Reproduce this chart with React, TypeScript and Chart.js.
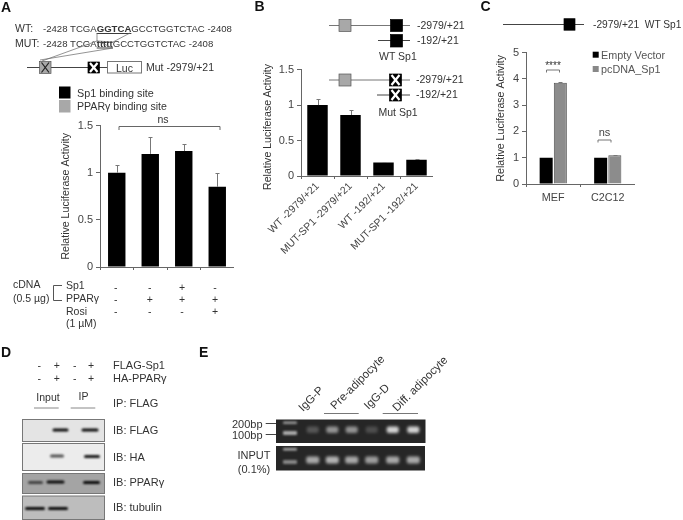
import React, { useEffect, useRef } from "react";
import { Chart, registerables } from "chart.js";

Chart.register(...registerables);

const FONT = "'Liberation Sans', Arial, sans-serif";
const INK = "#333333";

// ---- Panel A data
const aCategories = ["1", "2", "3", "4"];
const aValues = [1, 1.2, 1.23, 0.85];
const aErrorTops = [1.08, 1.38, 1.31, 1.0];
const aTickMax = 1.5;
// ---- Panel B data
const bCategories = ["WT -2979/+21", "MUT-SP1 -2979/+21", "WT -192/+21", "MUT-SP1 -192/+21"];
const bValues = [1, 0.86, 0.19, 0.23];
const bErrorTops = [1.08, 0.93, 0.195, 0.24];
// ---- Panel C data
const cCategories = ["MEF", "C2C12"];
const cEmptyVector = [1, 1];
const cPcDNA = [3.85, 1.09];
const cPcDNAErrorTops = [3.87, 1.09];

// ---- Panel A sign table
const signRowsA = [
  ["-", "-", "+", "-"],
  ["-", "+", "+", "+"],
  ["-", "-", "-", "+"],
];
// ---- Panel D sign table
const signRowsD = [
  ["-", "+", "-", "+"],
  ["-", "+", "-", "+"],
];

const errorBars = {
  id: "errorBars",
  afterDatasetsDraw(chart: any) {
    const { ctx } = chart;
    chart.data.datasets.forEach((ds: any, i: number) => {
      if (!ds.errorTops) return;
      const meta = chart.getDatasetMeta(i);
      const y = chart.scales.y;
      ctx.save();
      ctx.strokeStyle = "#777777";
      ctx.lineWidth = 1;
      ds.errorTops.forEach((top: number, j: number) => {
        const el = meta.data[j];
        const x = Math.round(el.x) + 0.5;
        const py = Math.round(y.getPixelForValue(top)) + 0.5;
        ctx.beginPath();
        ctx.moveTo(x, el.y);
        ctx.lineTo(x, py);
        ctx.moveTo(x - 2, py);
        ctx.lineTo(x + 2, py);
        ctx.stroke();
      });
      ctx.restore();
    });
  },
};

type PanelProps = {
  left: number; top: number; width: number; height: number;
  axisW: number; axisH: number; padTop: number;
  labels: string[]; datasets: any[]; max: number; step: number;
  showX: boolean; rotate?: number; catPct: number; barPct: number;
  xFont: number; yFont: number; xPad?: number; axisTitle: boolean;
};

function Panel(p: PanelProps) {
  const ref = useRef<HTMLCanvasElement>(null);
  useEffect(() => {
    const chart = new Chart(ref.current as HTMLCanvasElement, {
      type: "bar",
      data: {
        labels: p.labels,
        datasets: p.datasets.map((d) => ({
          categoryPercentage: p.catPct,
          barPercentage: p.barPct,
          ...d,
        })),
      },
      plugins: [errorBars],
      options: {
        responsive: false,
        animation: false,
        layout: { padding: { left: 0, top: p.padTop, right: 0, bottom: 0 } },
        plugins: { legend: { display: false }, tooltip: { enabled: false } },
        scales: {
          x: {
            border: { color: "#666666", width: 1 },
            grid: { drawOnChartArea: false, drawTicks: true, tickLength: 3, color: "#666666", offset: true },
            ticks: {
              display: p.showX,
              color: "#444444",
              font: { family: FONT, size: p.xFont },
              autoSkip: false,
              padding: p.xPad ?? 1,
              minRotation: p.rotate ?? 0,
              maxRotation: p.rotate ?? 0,
            },
            afterFit: (s: any) => { s.height = p.axisH; },
          },
          y: {
            min: 0,
            max: p.max,
            border: { color: "#666666", width: 1 },
            grid: { drawOnChartArea: false, drawTicks: true, tickLength: 4, color: "#666666" },
            ticks: {
              stepSize: p.step,
              color: "#444444",
              font: { family: FONT, size: p.yFont },
              padding: 3,
              callback: (v: any) => String(v),
            },
            title: {
              display: p.axisTitle,
              text: "Relative Luciferase Activity",
              color: "#333333",
              font: { family: FONT, size: 10.6 },
              padding: 0,
            },
            afterFit: (s: any) => { s.width = p.axisW; },
          },
        },
      } as any,
    });
    return () => chart.destroy();
  }, []);
  return (
    <canvas
      ref={ref}
      width={p.width}
      height={p.height}
      style={{ position: "absolute", left: p.left, top: p.top, width: p.width, height: p.height }}
    />
  );
}

function T(props: { x: number; y: number; s?: number; c?: string; b?: boolean; a?: string; r?: number; children: any }) {
  const { x, y, s = 10.5, c = INK, b, a, r, children } = props;
  return (
    <text
      x={x}
      y={y}
      fontSize={s}
      fill={c}
      fontFamily={FONT}
      fontWeight={b ? "bold" : "normal"}
      textAnchor={a as any}
      transform={r ? `rotate(${r} ${x} ${y})` : undefined}
      xmlSpace="preserve"
    >
      {children}
    </text>
  );
}

function L(props: { x1: number; y1: number; x2: number; y2: number; c?: string; w?: number }) {
  const { c = "#444", w = 1, ...rest } = props;
  return <line {...rest} stroke={c} strokeWidth={w} />;
}

function Box(props: { x: number; y: number; w: number; h: number; fill: string; xMark?: string }) {
  const { x, y, w, h, fill, xMark } = props;
  return (
    <g>
      <rect x={x} y={y} width={w} height={h} fill={fill} stroke={fill === "#000" ? "#000" : "#555"} strokeWidth={0.7} />
      {xMark && (
        <g stroke={xMark} strokeWidth={xMark === "#fff" ? 2.2 : 1.2}>
          <line x1={x + 2} y1={y + 1} x2={x + w - 2} y2={y + h - 1} />
          <line x1={x + w - 2} y1={y + 1} x2={x + 2} y2={y + h - 1} />
        </g>
      )}
    </g>
  );
}

const blotStrips = [
  { y: 419.5, h: 22, bg: "#e4e4e4", label: "IB: FLAG", ly: 434, bands: [[52.5, 16, 0.95, 430], [81.5, 17, 0.95, 430]] },
  { y: 443.5, h: 27, bg: "#ececec", label: "IB: HA", ly: 460.5, bands: [[50, 14, 0.65, 456], [84, 16, 0.9, 456.5]] },
  { y: 473.5, h: 20, bg: "#a4a4a4", label: "IB: PPARγ", ly: 485.5, bands: [[28, 15, 0.6, 482.5], [46.5, 18, 0.95, 482], [83, 17, 0.95, 482.5]] },
  { y: 496, h: 23.5, bg: "#bdbdbd", label: "IB: tubulin", ly: 510.5, bands: [[25, 20, 0.95, 508.5], [48, 20, 0.95, 508.5]] },
];

const gelBandX = [312.7, 332.3, 351.7, 371.7, 392.7, 413.3];
const gelTopLevels = [0.22, 0.5, 0.5, 0.18, 0.8, 0.8];
const gelBottomLevels = [0.6, 0.65, 0.6, 0.55, 0.6, 0.6];

function Overlay() {
  return (
    <svg width={683} height={520} style={{ position: "absolute", left: 0, top: 0 }}>
      <defs>
        <filter id="b1" x="-30%" y="-100%" width="160%" height="300%"><feGaussianBlur stdDeviation="0.9" /></filter>
        <filter id="b2" x="-30%" y="-100%" width="160%" height="300%"><feGaussianBlur stdDeviation="1.7" /></filter>
      </defs>

      {/* Panel A */}
      <T x={1} y={11.5} s={14} b c="#111">A</T>
      <T x={15} y={32}>WT:</T>
      <T x={43} y={32} s={9.6}>-2428 TCGA<tspan fontWeight="bold" textDecoration="underline">GGTCA</tspan>GCCTGGTCTAC -2408</T>
      <T x={15} y={46.5}>MUT:</T>
      <T x={43} y={46.5} s={9.6}>-2428 TCGA<tspan fontWeight="bold" textDecoration="underline">ttttt</tspan>GCCTGGTCTAC -2408</T>
      <polyline points="97,33 97,41 113,48 40,60" fill="none" stroke="#666" strokeWidth={0.7} />
      <polyline points="130,33 113,42 97,41 42,61" fill="none" stroke="#666" strokeWidth={0.7} />
      <L x1={27} y1={67.5} x2={107} y2={67.5} />
      <Box x={39.5} y={61.5} w={11.5} h={12} fill="#a8a8a8" xMark="#222" />
      <Box x={88} y={62} w={11.5} h={11} fill="#000" xMark="#fff" />
      <rect x={107.5} y={61.5} width={34} height={11.5} fill="#fff" stroke="#777" />
      <T x={124.5} y={71.5} a="middle">Luc</T>
      <T x={146} y={70.5}>Mut -2979/+21</T>
      <rect x={59} y={86.5} width={11.5} height={12} fill="#000" />
      <rect x={59} y={100} width={11.5} height={12.5} fill="#a8a8a8" />
      <T x={77} y={97} s={10.8}>Sp1 binding site</T>
      <T x={77} y={110} s={10.6}>PPARγ binding site</T>
      <polyline points="119,130 119,126.5 220,126.5 220,130" fill="none" stroke="#666" />
      <T x={163} y={123} a="middle">ns</T>

      <T x={13} y={288}>cDNA</T>
      <T x={13} y={301.5}>(0.5 µg)</T>
      <polyline points="62,285.5 53.5,285.5 53.5,300.5 62,300.5" fill="none" stroke="#555" />
      <T x={66} y={288.5}>Sp1</T>
      <T x={66} y={301.5}>PPARγ</T>
      <T x={66} y={314.5}>Rosi</T>
      <T x={66} y={327}>(1 µM)</T>
      {signRowsA.map((row, i) =>
        row.map((v, j) => (
          <T key={`a${i}${j}`} x={[115.7, 149.7, 182, 215][j]} y={[290.5, 302.5, 315][i]} a="middle">{v}</T>
        ))
      )}

      {/* Panel B */}
      <T x={254.5} y={11} s={14} b c="#111">B</T>
      <T x={270.5} y={190} s={10.6} r={-90}>Relative Luciferase Activity</T>
      <L x1={329} y1={25.5} x2={410} y2={25.5} c="#777" />
      <Box x={339} y={19.5} w={12} h={12} fill="#a8a8a8" />
      <Box x={390.5} y={19.5} w={12} h={12} fill="#000" />
      <T x={417} y={28.5}>-2979/+21</T>
      <L x1={378} y1={40.5} x2={410} y2={40.5} />
      <Box x={390.5} y={34.5} w={12} h={12.5} fill="#000" />
      <T x={417} y={44}>-192/+21</T>
      <T x={379} y={60}>WT Sp1</T>
      <L x1={329} y1={80} x2={410} y2={80} c="#777" />
      <Box x={339} y={74} w={12} h={12} fill="#a8a8a8" />
      <Box x={389.5} y={74} w={12} h={12} fill="#000" xMark="#fff" />
      <T x={416} y={83}>-2979/+21</T>
      <L x1={377} y1={95} x2={410} y2={95} />
      <Box x={389.5} y={89} w={12} h={12} fill="#000" xMark="#fff" />
      <T x={416} y={98}>-192/+21</T>
      <T x={378.5} y={116}>Mut Sp1</T>

      {/* Panel C */}
      <T x={480.5} y={11} s={14} b c="#111">C</T>
      <L x1={503} y1={24.5} x2={584} y2={24.5} />
      <Box x={564} y={18.7} w={11} h={11.5} fill="#000" />
      <T x={593} y={28} s={10.2}>-2979/+21  WT Sp1</T>
      <rect x={592.7} y={51.7} width={6} height={6} fill="#000" />
      <rect x={592.7} y={66} width={6} height={6} fill="#888" />
      <T x={601} y={58.5} c="#555" s={10.8}>Empty Vector</T>
      <T x={601} y={72.5} c="#555" s={10.8}>pcDNA_Sp1</T>
      <polyline points="546.5,72.5 546.5,70 559.5,70 559.5,72.5" fill="none" stroke="#777" />
      <T x={553} y={69} a="middle" s={10}>****</T>
      <polyline points="598,142.5 598,140 611,140 611,142.5" fill="none" stroke="#777" />
      <T x={604.5} y={136} a="middle" c="#444" s={11}>ns</T>

      {/* Panel D */}
      <T x={1} y={357} s={14} b c="#111">D</T>
      {signRowsD.map((row, i) =>
        row.map((v, j) => (
          <T key={`d${i}${j}`} x={[39.3, 56.7, 74.7, 91][j]} y={[368.5, 381.5][i]} a="middle">{v}</T>
        ))
      )}
      <T x={113} y={368.5} s={11}>FLAG-Sp1</T>
      <T x={113} y={381.5} s={11}>HA-PPARγ</T>
      <T x={48} y={400.5} a="middle">Input</T>
      <T x={83.5} y={400} a="middle">IP</T>
      <L x1={34} y1={408} x2={58.7} y2={408} c="#888" />
      <L x1={70.7} y1={408} x2={95.3} y2={408} c="#888" />
      <T x={113} y={407} s={11}>IP: FLAG</T>
      {blotStrips.map((s) => (
        <g key={s.label}>
          <rect x={22.5} y={s.y} width={82} height={s.h} fill={s.bg} stroke="#777" />
          {s.bands.map((b, i) => (
            <rect key={i} x={b[0]} y={b[3] - 1.5} width={b[1]} height={3} rx={1.5} fill="#000" opacity={b[2]} filter="url(#b1)" />
          ))}
          <T x={113} y={s.ly} s={11}>{s.label}</T>
        </g>
      ))}

      {/* Panel E */}
      <T x={199} y={357} s={14} b c="#111">E</T>
      <T x={303} y={412} s={11.5} r={-45}>IgG-P</T>
      <T x={335} y={410} s={11.5} r={-45}>Pre-adipocyte</T>
      <T x={368.5} y={410} s={11.5} r={-45}>IgG-D</T>
      <T x={397} y={412} s={11.5} r={-45}>Diff. adipocyte</T>
      <L x1={324} y1={413.5} x2={358.7} y2={413.5} c="#777" />
      <L x1={382.7} y1={413.5} x2={418} y2={413.5} c="#777" />
      <rect x={276} y={419.5} width={149.5} height={23.5} fill="#262626" />
      <rect x={276} y={446} width={149} height={24.5} fill="#262626" />
      <rect x={283} y={421.5} width={14} height={2.5} rx={1} fill="#999" filter="url(#b1)" />
      <rect x={283} y={431} width={14} height={4} rx={1} fill="#aaa" filter="url(#b1)" />
      <rect x={283} y={448} width={14} height={2.5} rx={1} fill="#aaa" filter="url(#b1)" />
      <rect x={283} y={460} width={14} height={4} rx={1} fill="#888" filter="url(#b1)" />
      {gelBandX.map((x, i) => (
        <g key={x}>
          <rect x={x - 6} y={426.5} width={12} height={6.5} rx={2} fill="#fff" opacity={gelTopLevels[i]} filter="url(#b2)" />
          <rect x={x - 6.5} y={456.5} width={13} height={7} rx={2} fill="#fff" opacity={gelBottomLevels[i]} filter="url(#b2)" />
        </g>
      ))}
      <T x={232} y={427.5} s={11}>200bp</T>
      <T x={232} y={439} s={11}>100bp</T>
      <L x1={265.7} y1={423.5} x2={276} y2={423.5} />
      <L x1={265.7} y1={434.5} x2={276} y2={434.5} />
      <T x={254} y={459} a="middle" s={11}>INPUT</T>
      <T x={254} y={473} a="middle" s={11}>(0.1%)</T>
    </svg>
  );
}

export default function App() {
  return (
    <div style={{ position: "absolute", left: 0, top: 0, width: 683, height: 520, background: "#fff", overflow: "hidden", filter: "blur(0.35px)" }}>
      <Panel
        left={60} top={116} width={174} height={171} axisW={40} axisH={20} padTop={8}
        labels={aCategories} max={aTickMax} step={0.5} showX={false} catPct={1} barPct={0.52}
        xFont={11} yFont={11} axisTitle
        datasets={[{ data: aValues, backgroundColor: "#000", errorTops: aErrorTops }]}
      />
      <Panel
        left={261} top={60} width={172} height={208} axisW={40} axisH={92} padTop={8}
        labels={bCategories} max={1.5} step={0.5} showX rotate={45} catPct={1} barPct={0.62}
        xFont={10.5} yFont={11} axisTitle={false}
        datasets={[{ data: bValues, backgroundColor: "#000", errorTops: bErrorTops }]}
      />
      <Panel
        left={495} top={43} width={140} height={161} axisW={31} axisH={20} padTop={8}
        labels={cCategories} max={5} step={1} showX catPct={0.52} barPct={0.92}
        xFont={10.8} yFont={11} xPad={5} axisTitle
        datasets={[
          { data: cEmptyVector, backgroundColor: "#000" },
          { data: cPcDNA, backgroundColor: "#8c8c8c", borderColor: "#555", borderWidth: 1, errorTops: cPcDNAErrorTops },
        ]}
      />
      <Overlay />
    </div>
  );
}
